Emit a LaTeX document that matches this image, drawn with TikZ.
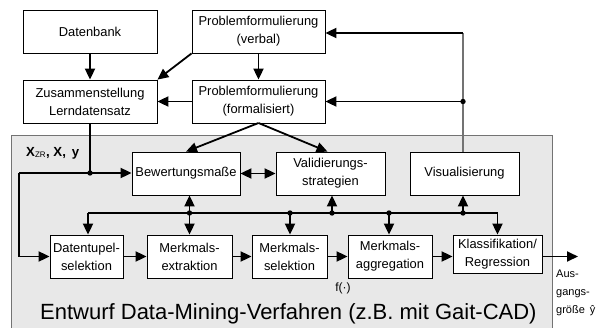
\documentclass[tikz,border=0pt]{standalone}
\usepackage{fontspec}
\setmainfont{Liberation Sans}
\usetikzlibrary{arrows.meta}
\begin{document}
\begin{tikzpicture}[x=1pt,y=-1pt,
  box/.style={draw=black, line width=0.8pt, fill=white, align=center, inner sep=0pt,
    font=\fontsize{12.9}{18}\selectfont},
  arr/.style={line width=1.8pt, -{Triangle[length=11pt,width=10pt]}},
  darr/.style={line width=1.8pt, {Triangle[length=11pt,width=10pt]}-{Triangle[length=11pt,width=10pt]}},
  ln/.style={line width=1.8pt},
  gln/.style={line width=1.3pt, draw=black!55}
]
\useasboundingbox (0,0) rectangle (602,327);
% design region
\draw[draw=black!55, fill=black!9, line width=0.8pt] (11.5,135) rectangle (552,335);

% top boxes
\node[box, minimum width=134pt, minimum height=43pt] (db) at (90,31.5) {Datenbank};
\node[box, minimum width=133pt, minimum height=43pt] (pv) at (258.5,31.5) {Problemformulierung\\(verbal)};
\node[box, minimum width=134pt, minimum height=43pt] (zus) at (90,101.5) {Zusammenstellung\\Lerndatensatz};
\node[box, minimum width=133pt, minimum height=43pt] (pf) at (258.5,101.5) {Problemformulierung\\(formalisiert)};

% middle boxes
\node[box, minimum width=108pt, minimum height=43pt] (bew) at (186,173.5) {Bewertungsmaße};
\node[box, minimum width=109pt, minimum height=43pt] (val) at (330.5,173.5) {Validierungs-\\strategien};
\node[box, minimum width=109pt, minimum height=43pt] (vis) at (464.5,173.5) {Visualisierung};

% bottom boxes
\node[box, minimum width=73pt, minimum height=43pt] (dts) at (86.5,256.5) {Datentupel-\\selektion};
\node[box, minimum width=85pt, minimum height=43pt] (mex) at (189.5,256.5) {Merkmals-\\extraktion};
\node[box, minimum width=75pt, minimum height=43pt] (msel) at (289.5,256.5) {Merkmals-\\selektion};
\node[box, minimum width=84pt, minimum height=43pt] (magg) at (390,256.5) {Merkmals-\\aggregation};
\node[box, minimum width=89pt, minimum height=38pt] (kla) at (497.5,254) {Klassifikation/\\Regression};

% coordinates
\coordinate (in) at (90,173);
\coordinate (inl) at (19,173);
\coordinate (fb) at (463,33);
\coordinate (fbd) at (463,101.5);
\coordinate (pfb) at (258.5,123);
\coordinate (busl) at (88,213);
\coordinate (busr) at (497.5,213);
\coordinate (b1) at (189.5,213);
\coordinate (b2) at (290,213);
\coordinate (b3) at (332,213);
\coordinate (b4) at (389,213);
\coordinate (b5) at (463,213);
\coordinate (out) at (578,256.5);

% top connectors
\draw[arr] (db) -- (zus);
\draw[arr] (pv) -- (pf);
\draw[arr] (pv.south west) -- (zus.north east);
\draw[arr] (pf) -- (zus);
\draw[arr] (pfb) -- (bew.north);
\draw[arr] (pfb) -- ([xshift=-3pt]val.north);
\draw[darr] (bew) -- (val);

% feedback
\draw[gln] (vis.north -| fb) -- (fb);
\draw[arr] (fb) -- (pv.east |- fb);
\draw[arr] (fbd) -- (pf.east |- fbd);
\fill (fbd) circle (2.7pt);

% input
\draw[ln] (zus.south -| in) -- (in);
\draw[arr] (inl) -- (bew.west |- inl);
\draw[arr] (inl) |- (dts.west);
\fill (in) circle (2.7pt);
\node[anchor=west, font=\fontsize{13.2}{14}\selectfont\bfseries, inner sep=0pt] (xl) at (26,153)
  {X\textsubscript{\normalfont\fontsize{8}{8}\selectfont ZR}, X,\, y};

% bus
\draw[ln] (busl) -- (busr);
\draw[arr] (busl) -- (dts.north -| busl);
\draw[arr] (busr) -- (kla.north);
\draw[darr] (bew.south -| b1) -- (mex.north -| b1);
\draw[arr] (b2) -- (msel.north -| b2);
\draw[arr] (b3) -- (val.south -| b3);
\draw[arr] (b4) -- (magg.north -| b4);
\draw[arr] (b5) -- (vis.south -| b5);
\foreach \p in {b1,b2,b3,b4,b5} \fill (\p) circle (2.7pt);

% chain
\draw[arr] (dts) -- (mex);
\draw[arr] (mex) -- (msel);
\draw[arr] (msel) -- (magg);
\draw[arr] (magg.east) -- (magg.east -| kla.west);
\draw[arr] (kla.east |- out) -- (out);

% labels
\node[anchor=center, font=\fontsize{12}{12}\selectfont, inner sep=0pt] (f) at (343,288) {f(·)};
\node[anchor=north west, align=left, font=\fontsize{11}{18}\selectfont, inner sep=0pt] (ag) at (556,270)
  {Aus-\\gangs-\\größe\, ŷ};
\node[anchor=base west, font=\fontsize{22}{24}\selectfont, inner sep=0pt] (title) at (40,319)
  {Entwurf Data-Mining-Verfahren (z.B. mit Gait-CAD)};
\end{tikzpicture}
\end{document}
